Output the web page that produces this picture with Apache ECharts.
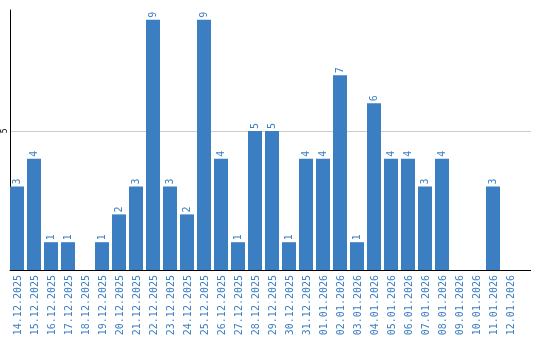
<!DOCTYPE html>
<html><head><meta charset="utf-8">
<script src="https://cdn.jsdelivr.net/npm/echarts@6/dist/echarts.min.js"></script>
<style>html,body{margin:0;padding:0;background:#fff}#c{width:540px;height:340px}</style>
</head><body><div id="c"></div>
<script>
const categories = ["14.12.2025","15.12.2025","16.12.2025","17.12.2025","18.12.2025","19.12.2025","20.12.2025","21.12.2025","22.12.2025","23.12.2025","24.12.2025","25.12.2025","26.12.2025","27.12.2025","28.12.2025","29.12.2025","30.12.2025","31.12.2025","01.01.2026","02.01.2026","03.01.2026","04.01.2026","05.01.2026","06.01.2026","07.01.2026","08.01.2026","09.01.2026","10.01.2026","11.01.2026","12.01.2026"];
const values = [3,4,1,1,0,1,2,3,9,3,2,9,4,1,5,5,1,4,4,7,1,6,4,4,3,4,0,0,3,0];
const yTicks = [5];
const chart = echarts.init(document.getElementById('c'), null, {renderer:'canvas'});
chart.setOption({
  animation:false,
  grid:{left:10,right:20,top:10,bottom:70,containLabel:false},
  xAxis:{type:'category',data:categories,
    axisLine:{lineStyle:{color:'#000',width:1}},
    axisTick:{show:false},
    axisLabel:{rotate:90,color:'#3b7ec2',fontFamily:'DejaVu Sans Mono',fontSize:10,margin:5,interval:0}},
  yAxis:{type:'value',min:0,max:9.35,interval:5,
    axisLine:{show:true,lineStyle:{color:'#000',width:1}},
    axisTick:{show:false},
    splitLine:{show:false},
    axisLabel:{color:'#000',fontSize:8,fontFamily:'DejaVu Sans Mono',rotate:90,margin:1,
      verticalAlign:'bottom',
      formatter:v=>yTicks.includes(v)?String(v):''}},
  series:[
    {type:'bar',data:values,barWidth:14,barGap:0,barCategoryGap:0,
      itemStyle:{color:'#3b7ec2'},
      label:{show:true,position:'top',rotate:90,align:'left',verticalAlign:'middle',distance:2,color:'#3b7ec2',fontSize:10,fontFamily:'DejaVu Sans Mono',
        formatter:p=>p.value>0?String(p.value):''}},
    {type:'bar',data:values.map(()=>0),barWidth:3,barGap:0,itemStyle:{color:'rgba(0,0,0,0)'},silent:true}
  ]
});
const gx0 = 10, gx1 = 531;
const gridLines = yTicks.map(t=>{
  const y = Math.round(chart.convertToPixel({yAxisIndex:0}, t)) + 0.5;
  return {type:'line',z:0,shape:{x1:gx0,y1:y,x2:gx1,y2:y},style:{stroke:'#cccccc',lineWidth:1}};
});
const y0 = Math.round(chart.convertToPixel({yAxisIndex:0}, 0)) + 0.5;
chart.setOption({graphic:[...gridLines,
  {type:'line',shape:{x1:519,y1:y0,x2:gx1,y2:y0},style:{stroke:'#000',lineWidth:1}}]});
</script></body></html>
